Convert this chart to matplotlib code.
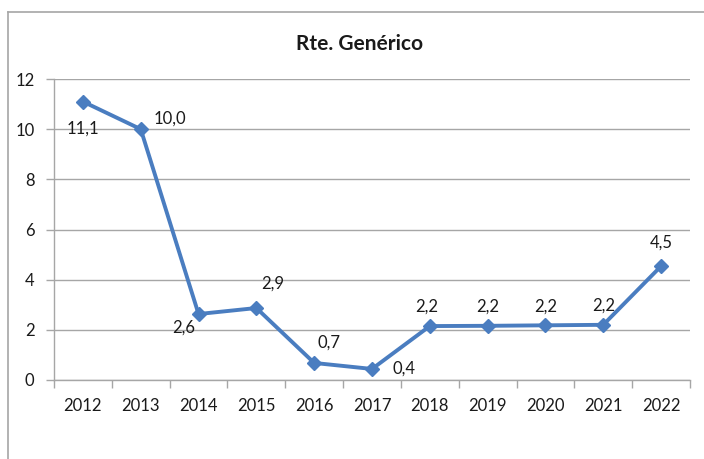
import matplotlib.pyplot as plt
from matplotlib.lines import Line2D

plt.rcParams['font.family'] = ['Lato', 'DejaVu Sans']

years = ['2012', '2013', '2014', '2015', '2016', '2017', '2018', '2019', '2020', '2021', '2022']
values = [11.1, 10.0, 2.63, 2.87, 0.68, 0.44, 2.15, 2.16, 2.18, 2.2, 4.54]
labels = ['11,1', '10,0', '2,6', '2,9', '0,7', '0,4', '2,2', '2,2', '2,2', '2,2', '4,5']
# label offsets in pixels (dx, dy) relative to each point
offsets_px = [(0, -27), (29, 11), (-15, -14), (16, 24), (15, 20), (32, 0),
              (-3, 19), (0, 19), (0, 19), (0, 19), (0, 23)]

line_color = '#4A7DC0'
grid_color = '#A6A6A6'
text_color = '#1a1a1a'

fig = plt.figure(figsize=(7.04, 4.59), dpi=100)
ax = fig.add_axes([54 / 704, 1 - 380 / 459, (690 - 54) / 704, (380 - 79) / 459])

x = list(range(len(years)))
ax.plot(x, values, color=line_color, linewidth=2.8, marker='D', markersize=7.5,
        markerfacecolor=line_color, markeredgecolor=line_color, zorder=3)

for xi, v, lab, (dx, dy) in zip(x, values, labels, offsets_px):
    ax.annotate(lab, (xi, v), xytext=(dx * 0.72, dy * 0.72), textcoords='offset points',
                ha='center', va='center', fontsize=12, color=text_color)

ax.set_xlim(-0.5, len(years) - 0.5)
ax.set_ylim(0, 12)
ax.set_yticks(range(0, 13, 2))
ax.set_xticks(x)
ax.set_xticklabels(years)
ax.set_xticks([i - 0.5 for i in range(len(years) + 1)], minor=True)
ax.tick_params(axis='x', which='major', length=0, pad=13, labelsize=12, labelcolor=text_color)
ax.tick_params(axis='x', which='minor', length=6, color=grid_color, width=1)
ax.tick_params(axis='y', length=6, color=grid_color, width=1, pad=8, labelsize=12, labelcolor=text_color)

ax.grid(axis='y', color=grid_color, linewidth=1)
ax.set_axisbelow(True)
for side in ['top', 'right']:
    ax.spines[side].set_visible(False)
for side in ['left', 'bottom']:
    ax.spines[side].set_color(grid_color)
    ax.spines[side].set_linewidth(1)

fig.text(360 / 704, 1 - 44 / 459, 'Rte. Genérico', ha='center', va='center',
         fontsize=15, fontweight='bold', color=text_color)

# outer chart frame (left and top edges visible)
fig.add_artist(Line2D([8 / 704, 8 / 704], [0, 1 - 12 / 459], color=grid_color, linewidth=1.2,
                      transform=fig.transFigure))
fig.add_artist(Line2D([8 / 704, 1], [1 - 12 / 459, 1 - 12 / 459], color=grid_color, linewidth=1.2,
                      transform=fig.transFigure))

fig.savefig('out.png', dpi=100)
